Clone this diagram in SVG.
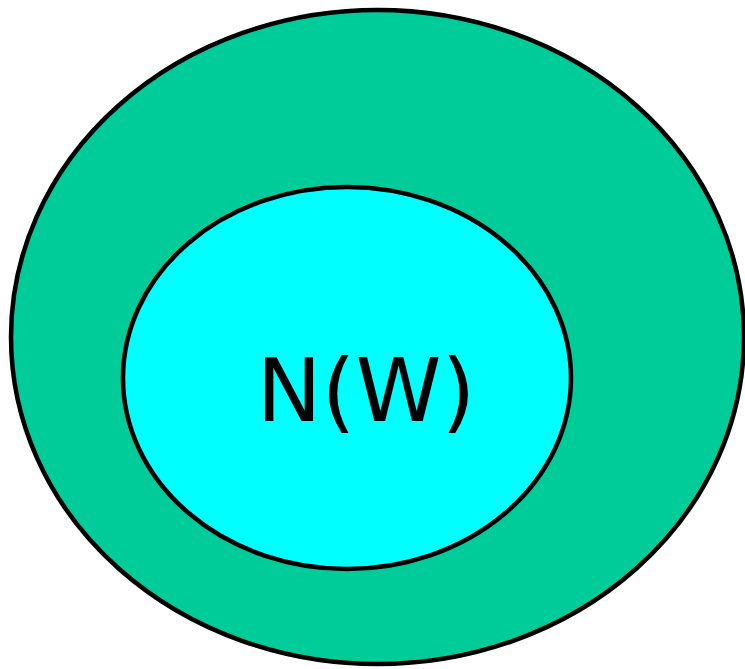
<svg xmlns="http://www.w3.org/2000/svg" width="745" height="669" viewBox="0 0 745 669">
<style>
.e{stroke:#000;stroke-width:4.5}
.t{font-family:"DejaVu Sans",sans-serif;font-size:87px;fill:#000}
</style>
<rect width="745" height="669" fill="#fff"/>
<g id="outer"><ellipse class="e" cx="377.5" cy="337" rx="366.5" ry="327" fill="#00cc99"/></g>
<g id="inner"><ellipse class="e" cx="347" cy="378" rx="224" ry="191" fill="#00ffff"/>
<text class="t" x="366" y="421" text-anchor="middle">N(W)</text></g>
</svg>
